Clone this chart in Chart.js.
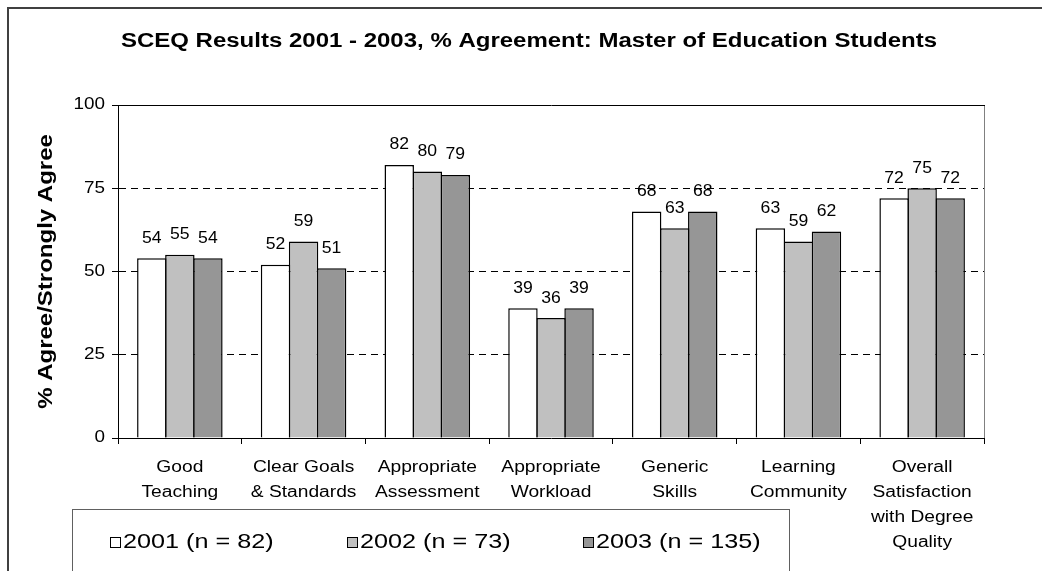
<!DOCTYPE html>
<html>
<head>
<meta charset="utf-8">
<script src="https://cdn.jsdelivr.net/npm/chart.js@4.4.1/dist/chart.umd.min.js"></script>
<style>
  html, body { margin: 0; padding: 0; background: #ffffff; overflow: hidden; }
  #wrap { width: 1042px; height: 571px; position: relative; }
</style>
</head>
<body>
<div id="wrap"><canvas id="c" width="1042" height="571"></canvas></div>
<script>
// ---- data ----
const chartTitle = 'SCEQ Results 2001 - 2003, % Agreement: Master of Education Students';
const yAxisTitle = '% Agree/Strongly Agree';
const categories = [
  ['Good', 'Teaching'],
  ['Clear Goals', '& Standards'],
  ['Appropriate', 'Assessment'],
  ['Appropriate', 'Workload'],
  ['Generic', 'Skills'],
  ['Learning', 'Community'],
  ['Overall', 'Satisfaction', 'with Degree', 'Quality']
];
const seriesNames = ['2001 (n = 82)', '2002 (n = 73)', '2003 (n = 135)'];
const values2001 = [54, 52, 82, 39, 68, 63, 72];
const values2002 = [55, 59, 80, 36, 63, 59, 75];
const values2003 = [54, 51, 79, 39, 68, 62, 72];
const yTickValues = [0, 25, 50, 75, 100];

// ---- styles ----
const seriesFill = ['#FFFFFF', '#C0C0C0', '#969696'];
const FONT = '"Liberation Sans", Arial, Helvetica, sans-serif';
const SX = 1.2; // horizontal stretch of the original text rendering

function stext(ctx, txt, x, y, align, sx, font) {
  ctx.save();
  ctx.font = font;
  ctx.fillStyle = '#000';
  ctx.textAlign = align;
  ctx.textBaseline = 'middle';
  ctx.translate(x, y);
  ctx.scale(sx, 1);
  ctx.fillText(txt, 0, 0);
  ctx.restore();
}

const decorPlugin = {
  id: 'decor',
  afterDraw(chart) {
    const ctx = chart.ctx;
    const area = chart.chartArea;
    const xs = chart.scales.x, ys = chart.scales.y;

    // outer chart frame
    ctx.save();
    ctx.strokeStyle = '#404040';
    ctx.lineWidth = 2;
    ctx.strokeRect(8, 8, 1200, 1200);
    ctx.restore();

    // plot area top (black) and right (gray) borders
    ctx.save();
    ctx.lineWidth = 1;
    ctx.strokeStyle = '#808080';
    ctx.beginPath();
    ctx.moveTo(Math.round(area.right) + 0.5, area.top);
    ctx.lineTo(Math.round(area.right) + 0.5, area.bottom);
    ctx.stroke();
    ctx.strokeStyle = '#000';
    ctx.beginPath();
    ctx.moveTo(area.left, Math.round(area.top) + 0.5);
    ctx.lineTo(Math.round(area.right) + 1, Math.round(area.top) + 0.5);
    ctx.stroke();
    ctx.restore();

    // title
    stext(ctx, chartTitle, 529, 41, 'center', SX, 'bold 20px ' + FONT);

    // y axis title (rotated)
    ctx.save();
    ctx.font = 'bold 20px ' + FONT;
    ctx.fillStyle = '#000';
    ctx.textAlign = 'center';
    ctx.textBaseline = 'middle';
    ctx.translate(46, (area.top + area.bottom) / 2);
    ctx.rotate(-Math.PI / 2);
    ctx.scale(SX, 1);
    ctx.fillText(yAxisTitle, 0, 0);
    ctx.restore();

    // y tick labels
    yTickValues.forEach(v => {
      stext(ctx, String(v), area.left - 13, ys.getPixelForValue(v), 'right', 1.18, '16px ' + FONT);
    });

    // x category labels
    categories.forEach((lines, i) => {
      const x = xs.getPixelForValue(i);
      lines.forEach((ln, k) => {
        stext(ctx, ln, x, area.bottom + 30 + k * 25, 'center', SX, '16px ' + FONT);
      });
    });

    // data labels
    chart.data.datasets.forEach((ds, di) => {
      const meta = chart.getDatasetMeta(di);
      meta.data.forEach((el, i) => {
        stext(ctx, String(ds.data[i]), el.x, el.y - 20, 'center', 1.1, '16px ' + FONT);
      });
    });

    // legend box
    ctx.save();
    ctx.strokeStyle = '#606060';
    ctx.lineWidth = 1;
    ctx.strokeRect(72.5, 509.5, 717, 200);
    ctx.restore();
    const legendX = [110, 347, 583];
    seriesNames.forEach((name, i) => {
      ctx.save();
      ctx.fillStyle = seriesFill[i];
      ctx.fillRect(legendX[i] + 0.5, 537.5, 10, 10);
      ctx.strokeStyle = '#000';
      ctx.lineWidth = 1;
      ctx.strokeRect(legendX[i] + 0.5, 537.5, 10, 10);
      ctx.restore();
      stext(ctx, name, legendX[i] + 13, 542, 'left', SX, '21px ' + FONT);
    });
  }
};

new Chart(document.getElementById('c'), {
  type: 'bar',
  data: {
    labels: categories,
    datasets: [
      { label: seriesNames[0], data: values2001, backgroundColor: seriesFill[0] },
      { label: seriesNames[1], data: values2002, backgroundColor: seriesFill[1] },
      { label: seriesNames[2], data: values2003, backgroundColor: seriesFill[2] }
    ]
  },
  options: {
    responsive: false,
    animation: false,
    devicePixelRatio: 1,
    layout: { padding: { top: 105, left: 0, right: 58, bottom: 0 } },
    datasets: {
      bar: { categoryPercentage: 0.68, barPercentage: 1.05, borderWidth: 1.5, borderColor: '#000000' }
    },
    plugins: {
      legend: { display: false },
      title: { display: false },
      tooltip: { enabled: false }
    },
    scales: {
      x: {
        ticks: { display: false },
        grid: { display: true, drawOnChartArea: false, drawTicks: true, tickLength: 6, tickColor: '#000', tickWidth: 1, offset: true },
        border: { display: true, color: '#000', width: 1 },
        afterFit(s) { s.height = 133; }
      },
      y: {
        min: 0, max: 100,
        ticks: { stepSize: 25, display: false },
        grid: {
          color: (c) => (c.tick && c.tick.value > 0 && c.tick.value < 100) ? '#000' : 'rgba(0,0,0,0)',
          lineWidth: 1, drawTicks: true, tickLength: 6, tickColor: '#000', tickWidth: 1, tickBorderDash: []
        },
        border: { display: true, color: '#000', width: 1, dash: [7, 5] },
        afterFit(s) { s.width = 118; }
      }
    }
  },
  plugins: [decorPlugin]
});
</script>
</body>
</html>
